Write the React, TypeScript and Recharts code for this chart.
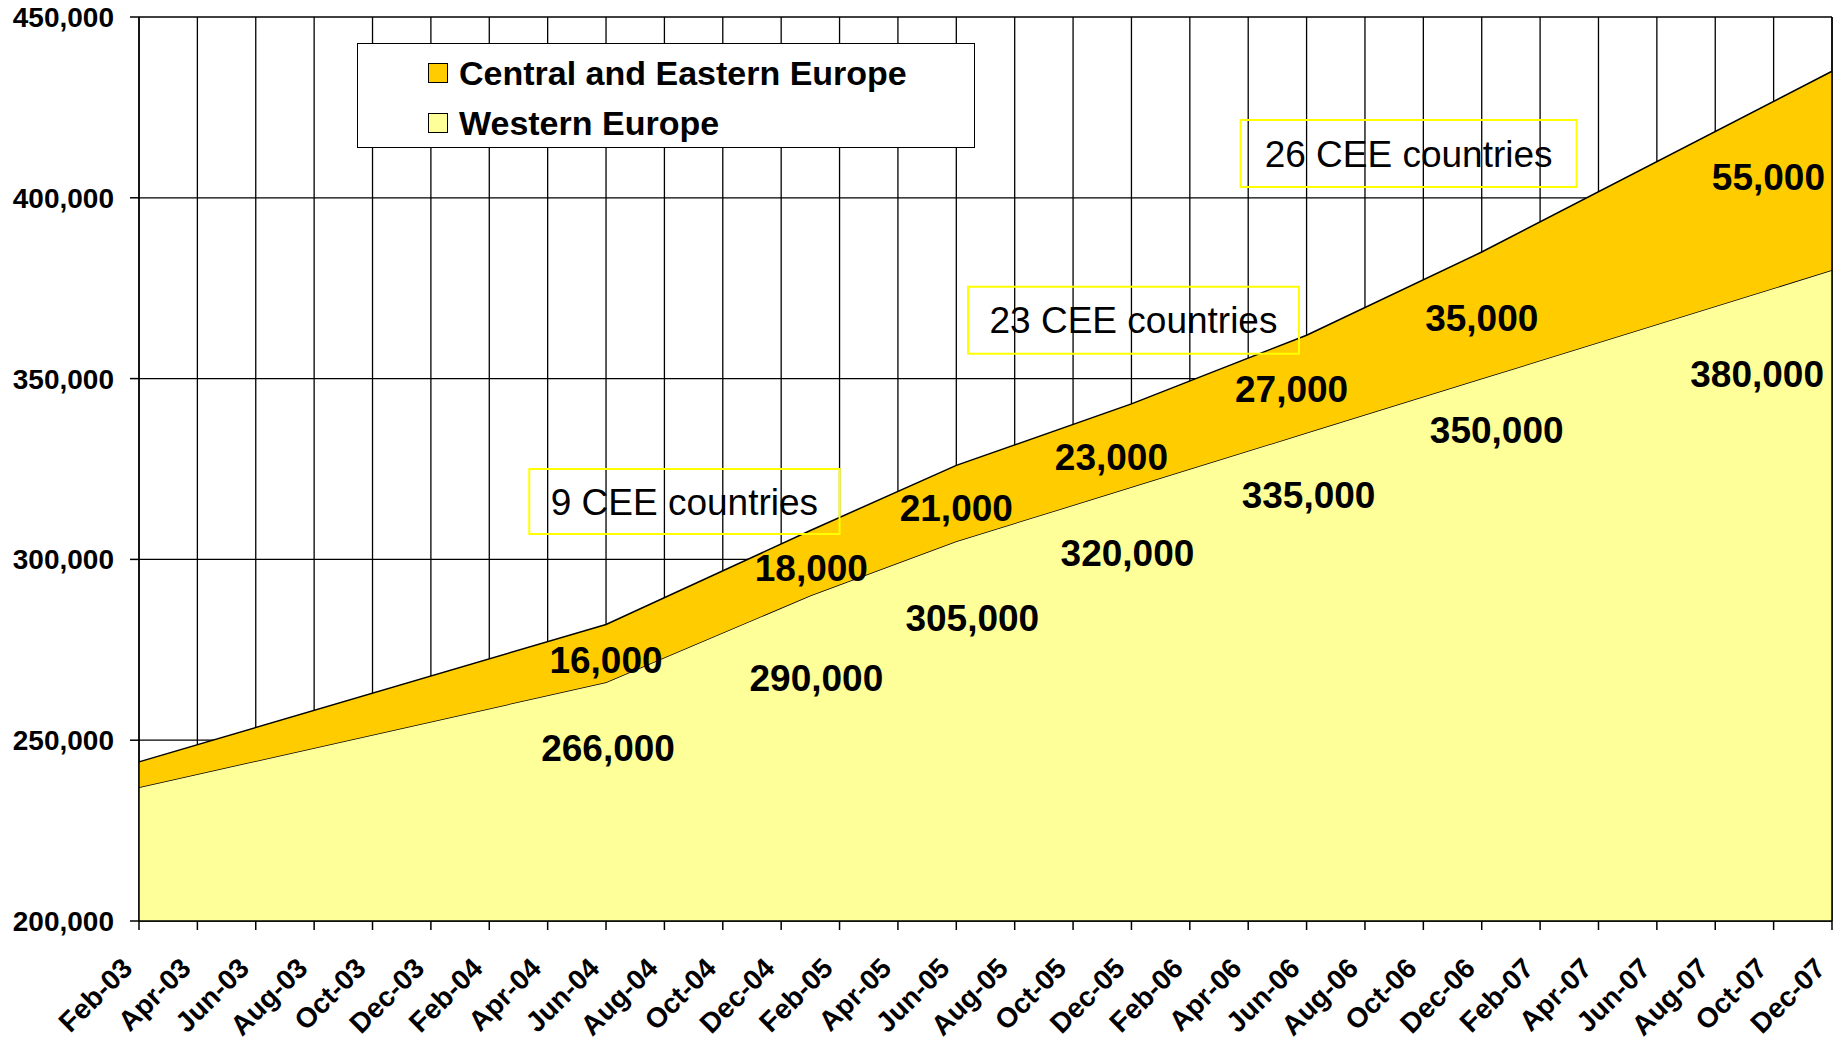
import React from "react";
import {
    ComposedChart, Area, Line, XAxis, YAxis, CartesianGrid,
    ReferenceArea, ReferenceLine, LabelList, Legend,
} from "recharts";

const FONT = '"Liberation Sans", Arial, Helvetica, sans-serif';

// bimonthly axis labels
const tickLabels = [
    "Feb-03", "Apr-03", "Jun-03", "Aug-03", "Oct-03", "Dec-03",
    "Feb-04", "Apr-04", "Jun-04", "Aug-04", "Oct-04", "Dec-04",
    "Feb-05", "Apr-05", "Jun-05", "Aug-05", "Oct-05", "Dec-05",
    "Feb-06", "Apr-06", "Jun-06", "Aug-06", "Oct-06", "Dec-06",
    "Feb-07", "Apr-07", "Jun-07", "Aug-07", "Oct-07", "Dec-07",
];

// data points
const pointDates = ["Feb-03", "Jun-04", "Jan-05", "Jun-05", "Dec-05", "Jun-06", "Dec-06", "Dec-07"];
const westernEurope = [237000, 266000, 290000, 305000, 320000, 335000, 350000, 380000];
const centralEastern = [7000, 16000, 18000, 21000, 23000, 27000, 35000, 55000];

const yTicks = [200000, 250000, 300000, 350000, 400000, 450000];

// text boxes, in data units (months since Feb-03 / value)
const notes = [
    { text: "9 CEE countries", x1: 13.37, x2: 24.0, y1: 307000, y2: 325000 },
    { text: "23 CEE countries", x1: 28.4, x2: 39.74, y1: 356900, y2: 375400 },
    { text: "26 CEE countries", x1: 37.74, x2: 49.25, y1: 403000, y2: 421500 },
];

const SERIES = [
    { key: "cee", name: "Central and Eastern Europe", color: "#FFCC00" },
    { key: "we", name: "Western Europe", color: "#FFFF99" },
];

const MONTHS = ["Jan", "Feb", "Mar", "Apr", "May", "Jun", "Jul", "Aug", "Sep", "Oct", "Nov", "Dec"];

/** "Jun-04" -> months since Feb-03 */
function monthIndex(label: string) {
    const [mon, yy] = label.split("-");
    return (Number(yy) - 3) * 12 + MONTHS.indexOf(mon) - 1;
}

const data = pointDates.map((d, i) => ({
    m: monthIndex(d),
    we: westernEurope[i],
    cee: centralEastern[i],
}));

const xTicks = tickLabels.map(monthIndex);
const fmt = (v: number) => v.toLocaleString("en-US");

// value labels were placed by hand in the original: nudge [dx, dy] from anchor
const weNudge = [null, [2, 65], [6, 82], [16, 76], [-4, 66], [2, 62], [15, 51], [-8, 104]];
const ceeNudge = [null, [0, 6], [1, 5], [0, 4], [-20, 11], [-15, 5], [0, 2], [-7, 6]];

function makeLabel(values: number[], nudge: any[]) {
    return (props: any) => {
        const { x, y, index } = props;
        const n = nudge[index];
        if (!n) return null;
        const last = index === values.length - 1;
        return (
            <text
                x={x + n[0]} y={y + n[1]} dy="0.36em"
                textAnchor={last ? "end" : "middle"}
                fontSize={37} fontWeight="bold" fill="#000" fontFamily={FONT}
            >
                {fmt(values[index])}
            </text>
        );
    };
}

function MonthTick({ x, y, payload }: any) {
    const i = xTicks.indexOf(payload.value);
    const tx = x - 19;
    return (
        <text
            x={tx} y={y} dy="0.71em" transform={`rotate(-45, ${tx}, ${y})`}
            textAnchor="end" fontSize={28} fontWeight="bold" fill="#000" fontFamily={FONT}
        >
            {tickLabels[i]}
        </text>
    );
}

function LegendBox() {
    return (
        <div style={{
            width: 618, height: 105, boxSizing: "border-box", border: "1.5px solid #000",
            background: "#fff", position: "relative", fontFamily: FONT,
        }}>
            {SERIES.map((s, i) => (
                <div key={s.key} style={{
                    position: "absolute", left: 70, top: i === 0 ? 9 : 59, height: 40,
                    display: "flex", alignItems: "center",
                }}>
                    <span style={{
                        width: 20, height: 20, boxSizing: "border-box",
                        border: "1.5px solid #000", background: s.color, display: "inline-block",
                    }} />
                    <span style={{ marginLeft: 11, fontSize: 34, fontWeight: "bold", lineHeight: 1, color: "#000" }}>
                        {s.name}
                    </span>
                </div>
            ))}
        </div>
    );
}

export default function App() {
    return (
        <div style={{ position: "absolute", left: 0, top: 0, background: "#fff" }}>
            <ComposedChart width={1845} height={1039} data={data} margin={{ top: 17, right: 13, bottom: 0, left: 0 }}>
                <CartesianGrid stroke="#000" strokeWidth={1.3} />
                <XAxis
                    dataKey="m" type="number" domain={[0, 58]} ticks={xTicks} interval={0}
                    height={118} tickSize={9} tickMargin={26}
                    stroke="#000" strokeWidth={1.5}
                    tick={<MonthTick />}
                />
                <YAxis
                    domain={[200000, 450000]} ticks={yTicks} allowDataOverflow
                    width={139} tickSize={9} tickMargin={16}
                    stroke="#000" strokeWidth={1.5}
                    tickFormatter={fmt}
                    tick={{ fontSize: 28, fontWeight: "bold", fill: "#000", fontFamily: FONT }}
                />
                <Legend
                    verticalAlign="middle" align="center"
                    wrapperStyle={{ left: 357, top: 43, width: 618, height: 105 }}
                    content={() => <LegendBox />}
                />

                <Area
                    dataKey="we" name="Western Europe" stackId="eu" type="linear"
                    fill="#FFFF99" fillOpacity={1} stroke="#000" strokeWidth={1.5}
                    isAnimationActive={false}
                >
                    <LabelList content={makeLabel(westernEurope, weNudge)} />
                </Area>
                <Area
                    dataKey="cee" name="Central and Eastern Europe" stackId="eu" type="linear"
                    fill="#FFCC00" fillOpacity={1} stroke="#000" strokeWidth={1.5}
                    isAnimationActive={false}
                />
                {/* invisible line through the middle of the CEE band, carries its labels */}
                <Line
                    dataKey={(d: any) => d.we + d.cee / 2} type="linear"
                    stroke="none" dot={false} activeDot={false} legendType="none"
                    isAnimationActive={false}
                >
                    <LabelList content={makeLabel(centralEastern, ceeNudge)} />
                </Line>

                <ReferenceLine x={58} stroke="#000" strokeWidth={1.5} />

                {notes.map((n) => (
                    <ReferenceArea
                        key={n.text} x1={n.x1} x2={n.x2} y1={n.y1} y2={n.y2}
                        fill="none" stroke="#FFFF00" strokeWidth={2} ifOverflow="visible"
                        label={{ value: n.text, position: "center", fill: "#000", fontSize: 37, fontFamily: FONT }}
                    />
                ))}
            </ComposedChart>
        </div>
    );
}
